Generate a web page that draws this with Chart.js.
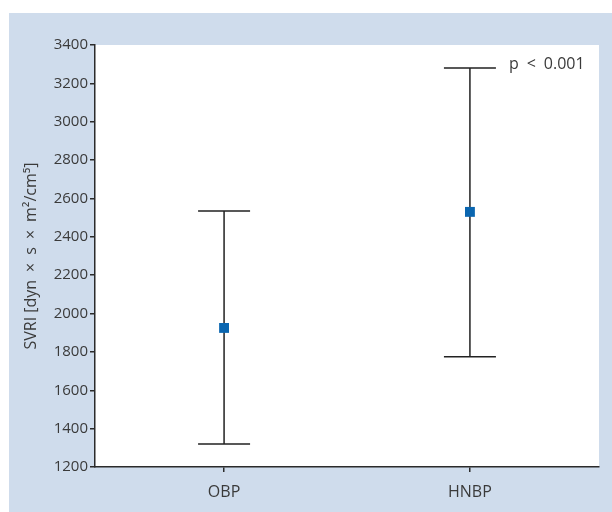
<!DOCTYPE html>
<html>
<head>
<meta charset="utf-8">
<script src="https://cdn.jsdelivr.net/npm/chart.js@4.4.1/dist/chart.umd.min.js"></script>
<style>
  html, body { margin: 0; padding: 0; background: #fff; }
  #wrap { width: 612px; height: 512px; }
</style>
</head>
<body>
<div id="wrap"><canvas id="myChart" width="612" height="512"></canvas></div>
<script>
// data
var categories = ['OBP', 'HNBP'];
var means = [1925, 2530];
var lower = [1320, 1775];
var upper = [2535, 3280];
var yTicks = [1200, 1400, 1600, 1800, 2000, 2200, 2400, 2600, 2800, 3000, 3200, 3400];
var pText = 'p\u2002<\u20020.001';

var textColor = '#3a3a3a';
var axisColor = '#2b2b2b';
var panelBlue = '#cfdcec';

// background panel + white plot area, error bars, p value
var decor = {
    id: 'decor',
    beforeDraw: function(chart) {
        var c = chart.ctx, a = chart.chartArea;
        c.save();
        c.fillStyle = '#ffffff';
        c.fillRect(0, 0, chart.width, chart.height);
        c.fillStyle = panelBlue;
        c.fillRect(9, 13, chart.width - 9, chart.height - 13);
        c.fillStyle = '#ffffff';
        c.fillRect(a.left, a.top, a.right - a.left, a.bottom - a.top);
        c.restore();
    },
    beforeDatasetsDraw: function(chart) {
        var c = chart.ctx;
        var xs = chart.scales.x, ys = chart.scales.y;
        c.save();
        c.strokeStyle = '#222';
        c.lineWidth = 1.5;
        for (var i = 0; i < categories.length; i++) {
            var x = xs.getPixelForValue(i);
            var yl = ys.getPixelForValue(lower[i]);
            var yu = ys.getPixelForValue(upper[i]);
            c.beginPath();
            c.moveTo(x, yl); c.lineTo(x, yu);
            c.moveTo(x - 26, yl); c.lineTo(x + 26, yl);
            c.moveTo(x - 26, yu); c.lineTo(x + 26, yu);
            c.stroke();
        }
        var last = categories.length - 1;
        c.fillStyle = textColor;
        c.font = '16px "Open Sans"';
        c.textAlign = 'left';
        c.textBaseline = 'middle';
        c.fillText(pText, xs.getPixelForValue(last) + 39, ys.getPixelForValue(upper[last]) - 4);
        c.restore();
    }
};

var ctx = document.getElementById('myChart');
var myChart = new Chart(ctx, {
    type: 'scatter',
    data: {
        datasets: [{
            data: means.map(function(v, i) { return {x: i, y: v}; }),
            pointStyle: 'rect',
            pointRadius: 7,
            pointHoverRadius: 7,
            backgroundColor: '#0a66b0',
            borderColor: '#0a66b0',
            borderWidth: 0
        }]
    },
    options: {
        responsive: false,
        animation: false,
        layout: { padding: { top: 45, right: 13, bottom: 0, left: 0 } },
        plugins: {
            legend: { display: false },
            tooltip: { enabled: false }
        },
        scales: {
            x: {
                type: 'linear',
                min: -0.525,
                max: 1.525,
                afterBuildTicks: function(s) {
                    s.ticks = categories.map(function(c, i) { return {value: i}; });
                },
                afterFit: function(s) { s.height = 45; },
                ticks: {
                    callback: function(v) { return categories[v]; },
                    color: textColor,
                    font: { family: 'Open Sans', size: 16 },
                    padding: 11
                },
                grid: { drawOnChartArea: false, drawTicks: true, tickLength: 5, color: axisColor, lineWidth: 1.5 },
                border: { display: true, color: axisColor, width: 1.5 }
            },
            y: {
                min: yTicks[0],
                max: yTicks[yTicks.length - 1],
                afterBuildTicks: function(s) {
                    s.ticks = yTicks.map(function(v) { return {value: v}; });
                },
                afterFit: function(s) { s.width = 95; },
                ticks: {
                    callback: function(v) { return String(v); },
                    color: textColor,
                    font: { family: 'Open Sans', size: 15 },
                    padding: 2
                },
                grid: { drawOnChartArea: false, drawTicks: true, tickLength: 5, color: axisColor, lineWidth: 1.5 },
                border: { display: true, color: axisColor, width: 1.5 },
                title: {
                    display: true,
                    text: 'SVRI [dyn\u2002×\u2002s\u2002×\u2002m²/cm⁵]',
                    color: textColor,
                    font: { family: 'Open Sans', size: 16 },
                    padding: { top: 22, bottom: 0 }
                }
            }
        }
    },
    plugins: [decor]
});
</script>
</body>
</html>
